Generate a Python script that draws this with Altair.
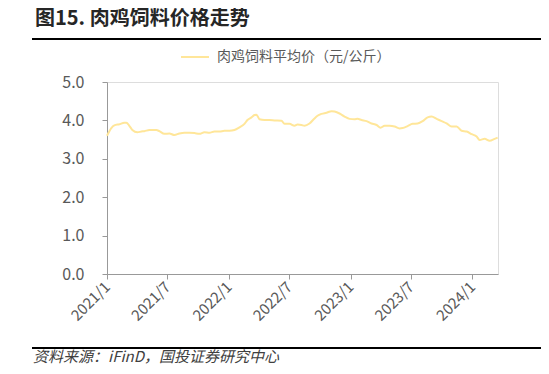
import altair as alt
import pandas as pd

dates = [
    "2021-01-01", "2021-01-14", "2021-01-23", "2021-02-07", "2021-02-22", "2021-02-28",
    "2021-03-09", "2021-03-18", "2021-04-02", "2021-04-14", "2021-04-23", "2021-05-08",
    "2021-05-29", "2021-06-07", "2021-06-22", "2021-07-07", "2021-07-22", "2021-08-06",
    "2021-08-21", "2021-09-05", "2021-09-20", "2021-10-05", "2021-10-20", "2021-11-04",
    "2021-11-19", "2021-12-04", "2021-12-19", "2022-01-03", "2022-01-18", "2022-02-02",
    "2022-02-17", "2022-02-26", "2022-03-10", "2022-03-19", "2022-03-25", "2022-04-03",
    "2022-04-18", "2022-05-03", "2022-05-18", "2022-06-08", "2022-06-17", "2022-07-02",
    "2022-07-17", "2022-07-26", "2022-08-07", "2022-08-16", "2022-08-31", "2022-09-15",
    "2022-09-24", "2022-10-06", "2022-10-21", "2022-11-05", "2022-11-14", "2022-11-29",
    "2022-12-14", "2022-12-29", "2023-01-13", "2023-01-22", "2023-02-03", "2023-02-18",
    "2023-03-05", "2023-03-20", "2023-04-01", "2023-04-13", "2023-04-28", "2023-05-13",
    "2023-05-28", "2023-06-06", "2023-06-21", "2023-07-06", "2023-07-21", "2023-08-05",
    "2023-08-20", "2023-09-01", "2023-09-16", "2023-10-01", "2023-10-16", "2023-10-31",
    "2023-11-15", "2023-11-30", "2023-12-15", "2023-12-30", "2024-01-14", "2024-01-23",
    "2024-02-07", "2024-02-22", "2024-03-08", "2024-03-17",
]
prices = [
    3.60, 3.80, 3.87, 3.90, 3.94, 3.94,
    3.86, 3.75, 3.69, 3.71, 3.72, 3.75,
    3.75, 3.72, 3.65, 3.66, 3.62, 3.66,
    3.68, 3.68, 3.67, 3.65, 3.69, 3.68,
    3.71, 3.71, 3.73, 3.73, 3.75, 3.82,
    3.91, 4.01, 4.08, 4.14, 4.15, 4.03,
    4.01, 4.01, 4.00, 3.99, 3.91, 3.91,
    3.86, 3.89, 3.88, 3.86, 3.92, 4.05,
    4.12, 4.17, 4.20, 4.24, 4.23, 4.18,
    4.10, 4.04, 4.03, 4.04, 4.01, 3.98,
    3.92, 3.88, 3.81, 3.86, 3.86, 3.84,
    3.79, 3.80, 3.85, 3.91, 3.92, 3.98,
    4.08, 4.10, 4.04, 3.98, 3.92, 3.84,
    3.84, 3.73, 3.71, 3.64, 3.58, 3.49,
    3.52, 3.47, 3.52, 3.55,
]
series_name = "肉鸡饲料平均价（元/公斤）"
x_ticks = ["2021-01-01", "2021-07-01", "2022-01-01", "2022-07-01",
           "2023-01-01", "2023-07-01", "2024-01-01"]
y_ticks = [0, 1, 2, 3, 4, 5]
title_text = "图15. 肉鸡饲料价格走势"
source_text = "资料来源：iFinD，国投证券研究中心"

FONT = "Noto Sans CJK SC"
LABEL = "#595959"

df = pd.DataFrame({"date": pd.to_datetime(dates), "price": prices, "series": series_name})

x_tick_dt = [alt.DateTime(year=int(d[:4]), month=int(d[5:7]), date=1) for d in x_ticks]

line = alt.Chart(df).mark_line(strokeWidth=2, interpolate="monotone").encode(
    x=alt.X(
        "date:T",
        scale=alt.Scale(domain=[alt.DateTime(year=2021, month=1, date=1),
                                alt.DateTime(year=2024, month=3, date=18)]),
        axis=alt.Axis(
            values=x_tick_dt, format="%Y/%-m", title=None, grid=False,
            labelAngle=-45, labelAlign="right", labelBaseline="middle",
            labelPadding=5, labelFontSize=15, labelFont=FONT, labelColor=LABEL,
            domainColor="#999999", tickColor="#999999", tickSize=5,
            labelOverlap=False,
        ),
    ),
    y=alt.Y(
        "price:Q",
        scale=alt.Scale(domain=[0, 5]),
        axis=alt.Axis(
            values=y_ticks, format=".1f", title=None, grid=False,
            labelFontSize=16, labelFont=FONT, labelColor=LABEL, labelPadding=18,
            domainColor="#999999", tickColor="#999999", tickSize=5,
        ),
    ),
    color=alt.Color(
        "series:N",
        scale=alt.Scale(range=["#FFE699"]),
        legend=alt.Legend(
            title=None, orient="none", legendX=73, legendY=-40,
            symbolType="stroke", symbolSize=784, symbolStrokeWidth=2,
            labelFont=FONT, labelFontSize=14, labelColor=LABEL, labelOffset=7,
            labelLimit=0,
        ),
    ),
)

title = alt.Chart(pd.DataFrame({"t": [title_text]})).mark_text(
    font=FONT, fontSize=20, fontWeight="bold", color="#262626",
    align="left", baseline="alphabetic",
).encode(text="t:N", x=alt.value(-72), y=alt.value(-57))

src = alt.Chart(pd.DataFrame({"t": [source_text]})).mark_text(
    font=FONT, fontSize=15, fontStyle="italic", color="#404040",
    align="left", baseline="middle",
).encode(text="t:N", x=alt.value(-74), y=alt.value(275))

rules_df = pd.DataFrame({"y": [-43, 266]})
rules = alt.Chart(rules_df).mark_rule(color="#000000", strokeWidth=2).encode(
    x=alt.value(-75), x2=alt.value(442), y=alt.Y("y:Q", scale=None)
)

chart = alt.layer(line, title, src, rules).properties(
    width=391, height=192,
    autosize=alt.AutoSizeParams(type="none"),
    padding={"left": 99, "top": 74, "right": 43, "bottom": 92},
).configure_view(stroke=None).configure(background="white")

chart.save("out.html", embed_options={"renderer": "svg", "actions": False})
